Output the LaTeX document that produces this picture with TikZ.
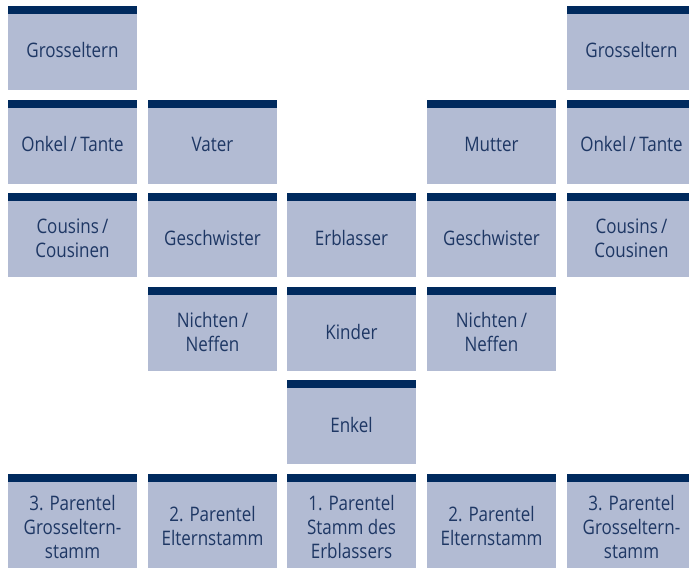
\documentclass[tikz,border=0pt]{standalone}
\usepackage{fontspec}
\newfontfamily\cellfontfam[FakeStretch=0.85]{Open Sans}
\definecolor{barblue}{RGB}{0,42,94}
\definecolor{cellblue}{RGB}{178,187,211}
\definecolor{textblue}{RGB}{30,55,100}
\tikzset{
  cell/.style={rectangle, fill=cellblue, inner sep=0pt,
    minimum width=129pt},
  celltext/.style={text=textblue, inner sep=0pt, align=center,
    font=\cellfontfam\fontsize{20}{24}\selectfont},
}
\newcommand\famcell[6][0]{%
  \fill[barblue] (#3,#4) rectangle ++(129,8);
  \node[cell, minimum height=#5pt] (#2) at ({#3+64.5},{#4+8+#5/2}) {};
  \node[celltext, yshift=#1pt] (#2-t) at (#2.center) {#6};
}
\begin{document}
\begin{tikzpicture}[x=1pt,y=-1pt]
\useasboundingbox (0,0) rectangle (689,568);
% row 1
\famcell[2]{gpl}{8}{6}{76}{Grosseltern}
\famcell[2]{gpr}{567}{6}{76}{Grosseltern}
% row 2
\famcell[2]{otl}{8}{100}{76}{Onkel\,/\,Tante}
\famcell[2]{vat}{148}{100}{76}{Vater}
\famcell[2]{mut}{427}{100}{76}{Mutter}
\famcell[2]{otr}{567}{100}{76}{Onkel\,/\,Tante}
% row 3
\famcell[1]{col}{8}{193}{76}{Cousins\,/\\Cousinen}
\famcell[1.5]{gsl}{148}{193}{76}{Geschwister}
\famcell[1.5]{erb}{287}{193}{76}{Erblasser}
\famcell[1.5]{gsr}{427}{193}{76}{Geschwister}
\famcell[1]{cor}{567}{193}{76}{Cousins\,/\\Cousinen}
% row 4
\famcell[1]{nil}{148}{287}{76}{Nichten\,/\\Neffen}
\famcell[1.5]{kin}{287}{287}{76}{Kinder}
\famcell[1]{nir}{427}{287}{76}{Nichten\,/\\Neffen}
% row 5
\famcell[1.5]{enk}{287}{380}{76}{Enkel}
% row 6
\famcell[-2]{p3l}{8}{474}{86}{3. Parentel\\Grosseltern-\\stamm}
\famcell[-1]{p2l}{148}{474}{86}{2. Parentel\\Elternstamm}
\famcell[-2]{p1}{287}{474}{86}{1. Parentel\\Stamm des\\Erblassers}
\famcell[-1]{p2r}{427}{474}{86}{2. Parentel\\Elternstamm}
\famcell[-2]{p3r}{567}{474}{86}{3. Parentel\\Grosseltern-\\stamm}
\end{tikzpicture}
\end{document}
